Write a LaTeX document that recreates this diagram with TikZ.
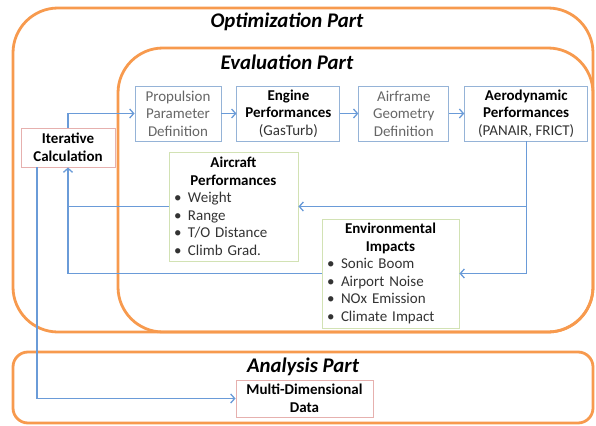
\documentclass[tikz,border=0pt]{standalone}
\usepackage{fontspec}
\setmainfont{Carlito}
\usetikzlibrary{positioning,arrows.meta}

\definecolor{partorange}{HTML}{F79A4E}
\definecolor{flowblue}{HTML}{6A9BD8}
\definecolor{boxblue}{HTML}{95B3D7}
\definecolor{boxred}{HTML}{E6B0AE}
\definecolor{boxgreen}{HTML}{D2E2B4}
\definecolor{txtgray}{HTML}{666666}
\definecolor{txtdark}{HTML}{333333}

\newcommand{\blt}[1]{\makebox[14pt][l]{\textbullet}#1}

\begin{document}
\begin{tikzpicture}[x=1pt,y=-1pt,
					>={Straight Barb[length=4pt,width=9pt]},
					node distance=15pt,
					every node/.style={font=\fontsize{15}{17.5}\selectfont},
					part/.style={draw=partorange,line width=2.8pt,rounded corners=45pt},
					title/.style={font=\fontsize{20.8}{24}\selectfont\bfseries\itshape},
					stage/.style={draw=boxblue,line width=0.9pt,minimum height=55pt,
						inner sep=1pt,align=center},
					result/.style={draw=boxgreen,line width=0.9pt,minimum height=109pt,
						inner xsep=5pt,inner ysep=3pt,align=left,text=txtdark},
					ctrl/.style={draw=boxred,line width=0.9pt,align=center,font=\fontsize{15}{17.5}\selectfont\bfseries},
					flow/.style={->,draw=flowblue,line width=1.3pt}]

  \useasboundingbox (0,0) rectangle (596,425);

  % part frames
  \draw[part] (13,8) rectangle (593,332);
  \draw[part] (118,48) rectangle (593,332);
  \draw[part,rounded corners=15pt] (13,352) rectangle (593,423);

  \node[title] (opt) at (287,22) {Optimization Part};
  \node[title] (eval) at (287,62) {Evaluation Part};
  \node[title] (anal) at (303,367) {Analysis Part};

  % evaluation chain
  \node[stage,minimum width=86pt,text=txtgray] (prop) at (178,113.5)
    {Propulsion\\Parameter\\Definition};
  \node[stage,minimum width=103pt] (engine) [right=15pt of prop]
    {\textbf{Engine}\\\textbf{Performances}\\{\color{txtdark}(GasTurb)}};
  \node[stage,minimum width=90pt,text=txtgray] (airframe) [right=18pt of engine]
    {Airframe\\Geometry\\Definition};
  \node[stage,minimum width=123pt] (aero) [right=15pt of airframe]
    {\textbf{Aerodynamic}\\\textbf{Performances}\\{\color{txtdark}(PANAIR, FRICT)}};

  \node[result,text width=119pt] (acft) at (233.5,206.5)
    {{\centering\color{black}\textbf{Aircraft}\\\textbf{Performances}\par}
     \blt{Weight}\\\blt{Range}\\\blt{T/O Distance}\\\blt{Climb Grad.}};
  \node[result,text width=127pt] (env) at (390.5,273.5)
    {{\centering\color{black}\textbf{Environmental}\\\textbf{Impacts}\par}
     \blt{Sonic Boom}\\\blt{Airport Noise}\\\blt{NOx Emission}\\\blt{Climate Impact}};

  \node[ctrl,minimum width=94pt,minimum height=39pt] (iter) at (68,147.5)
    {Iterative\\Calculation};
  \node[ctrl,minimum width=137pt,minimum height=37pt] (mdd) at (304.5,398.5)
    {Multi-Dimensional\\Data};

  \coordinate (join) at (iter.south |- acft.west);

  \path[flow]
    (iter.north) |- (prop.west);
  \path[flow]
    (prop) edge (engine)
    (engine) edge (airframe)
    (airframe) edge (aero);
  \draw[flow] (aero.south) |- (acft.east);
  \draw[flow] (aero.south) |- (env.east);
  \draw[flow,-] (acft.west) -- (join);
  \draw[flow] (env.west) -| (iter.south);
  \draw[flow] ([xshift=-31pt]iter.south) |- (mdd.west);
\end{tikzpicture}
\end{document}
